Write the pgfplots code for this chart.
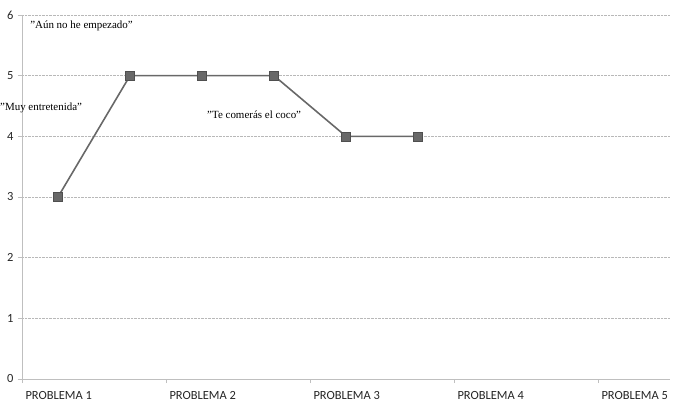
\documentclass[border=0pt]{standalone}
\usepackage{fontspec}
\setmainfont{Liberation Serif}
\newfontfamily\calibrifont{Carlito}
\usepackage{pgfplots}
\pgfplotsset{compat=1.18}
\definecolor{serie}{HTML}{686868}
\definecolor{serieborde}{HTML}{4F4F4F}
\definecolor{ejes}{HTML}{BFBFBF}
\definecolor{rejilla}{HTML}{B8B8B8}
\begin{document}
\begin{tikzpicture}
\useasboundingbox (-22bp,-32bp) rectangle (651bp,379bp);
\begin{axis}[
  at={(0,0)}, anchor=origin,
  scale only axis,
  width=648bp, height=364bp,
  xmin=0, xmax=4.5,
  ymin=0, ymax=6,
  clip=false,
  axis lines=left,
  axis line style={ejes, line width=0.8pt, -},
  xtick={0,1,2,3,4},
  xticklabels={PROBLEMA 1,PROBLEMA 2,PROBLEMA 3,PROBLEMA 4,PROBLEMA 5},
  ytick={0,1,2,3,4,5,6},
  tick style={ejes, line width=0.6pt},
  tick align=outside,
  major tick length=4bp,
  ymajorgrids,
  major grid style={rejilla, densely dotted, line width=0.5pt},
  /pgf/number format/assume math mode=true,
  tick label style={font=\calibrifont\fontsize{12.5}{14}\selectfont, text=black!85},
  xticklabel style={anchor=north west, xshift=0bp, yshift=-5bp},
  yticklabel style={xshift=-1bp},
]
\addplot[serie, line width=1.6pt, mark=square*, mark size=4.5bp,
  mark options={fill=serie, draw=serieborde, line width=0.6pt}]
  coordinates {(0.25,3) (0.75,5) (1.25,5) (1.75,5) (2.25,4) (2.75,4)};
\node[anchor=west, inner sep=0pt, font=\fontsize{11}{13}\selectfont]
  at (axis cs:0.056,5.82) {"Aún no he empezado"};
\node[anchor=west, inner sep=0pt, font=\fontsize{11}{13}\selectfont]
  at (axis cs:-0.153,4.47) {"Muy entretenida"};
\node[anchor=west, inner sep=0pt, font=\fontsize{11}{13}\selectfont]
  at (axis cs:1.285,4.35) {"Te comerás el coco"};
\end{axis}
\end{tikzpicture}
\end{document}
